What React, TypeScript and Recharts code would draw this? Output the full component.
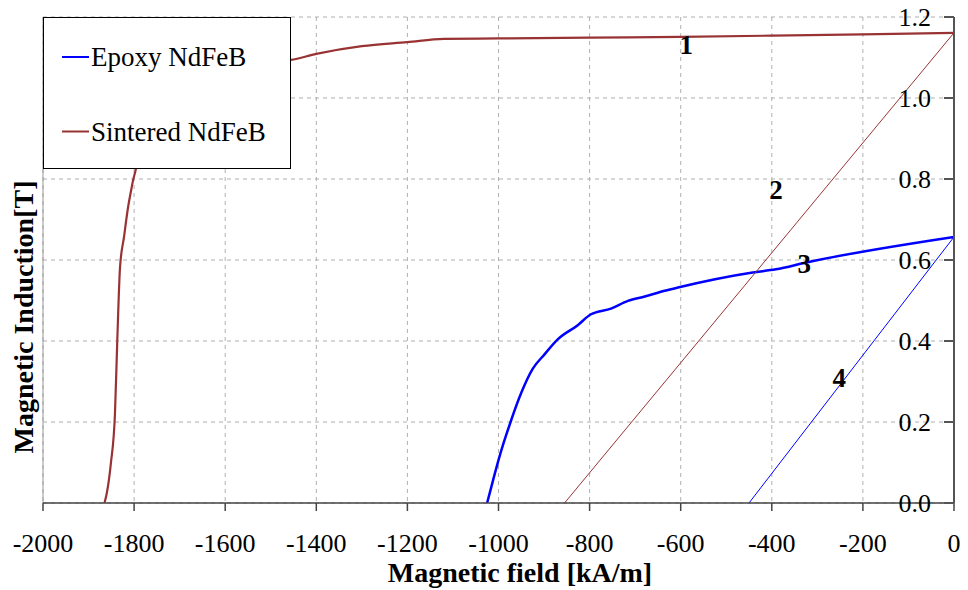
import {
  LineChart,
  Line,
  XAxis,
  YAxis,
  CartesianGrid,
  Legend,
  ReferenceDot,
  ReferenceLine,
} from "recharts";

const serif = "'Liberation Serif', 'Times New Roman', serif";

// x ticks [kA/m] and y ticks [T]
const fieldTicks = [-2000, -1800, -1600, -1400, -1200, -1000, -800, -600, -400, -200, 0];
const inductionTicks = [0, 0.2, 0.4, 0.6, 0.8, 1.0, 1.2];

// curve 1: sintered NdFeB demagnetization
const sinteredH = [
  -1865, -1860, -1851, -1842, -1837, -1831, -1822, -1813, -1807, -1802, -1796, -1788, -1770,
  -1740, -1690, -1600, -1500, -1456, -1400, -1300, -1200, -1120, -1000, -800, -600, -400, -200, 0,
];
const sinteredB = [
  0, 0.024, 0.098, 0.221, 0.398, 0.58, 0.658, 0.732, 0.769, 0.798, 0.825, 0.88, 0.96, 1.02,
  1.06, 1.08, 1.09, 1.094, 1.109, 1.128, 1.138, 1.146, 1.147, 1.149, 1.151, 1.154, 1.157, 1.161,
];

// curve 3: epoxy (bonded) NdFeB
const epoxyH = [
  -1025, -1012, -998, -972, -950, -925, -899, -870, -826, -797, -753, -716, -679, -635, -606,
  -442, -391, -324, 0,
];
const epoxyB = [
  0, 0.056, 0.114, 0.205, 0.272, 0.331, 0.367, 0.404, 0.439, 0.466, 0.48, 0.499, 0.51, 0.524,
  0.532, 0.569, 0.577, 0.594, 0.657,
];

// straight lines 2 and 4
const line2H = [-855, 0];
const line2B = [0, 1.161];
const line4H = [-450, 0];
const line4B = [0, 0.657];

// curve number labels
const markNames = ["1", "2", "3", "4"];
const markH = [-588, -391, -329, -252];
const markB = [1.133, 0.775, 0.592, 0.309];

const zip = (h: number[], b: number[]) => h.map((x, i) => ({ h: x, b: b[i] }));

const sintered = zip(sinteredH, sinteredB);
const epoxy = zip(epoxyH, epoxyB);
const line2 = zip(line2H, line2B);
const line4 = zip(line4H, line4B);

const BROWN = "#993333";
const BLUE = "#0000ff";

function LegendBox(props: any) {
  const items = (props.payload || []).filter((p: any) => p.type !== "none");
  return (
    <div
      style={{
        width: 248,
        height: 152,
        boxSizing: "border-box",
        border: "1px solid #000",
        background: "#fff",
      }}
    >
      <svg width={246} height={150}>
        {items.map((p: any, i: number) => (
          <g key={p.value}>
            <line x1={18} x2={45} y1={39 + i * 74.5} y2={39 + i * 74.5} stroke={p.color} strokeWidth={2} />
            <text x={47} y={48 + i * 75} fontSize={27} fontFamily={serif} fill="#000">
              {p.value}
            </text>
          </g>
        ))}
      </svg>
    </div>
  );
}

export default function App() {
  return (
    <div style={{ position: "absolute", left: 0, top: 0, width: 968, height: 590, background: "#fff" }}>
      <LineChart
        width={968}
        height={590}
        margin={{ top: 17, right: 14, left: 43, bottom: 0 }}
        style={{ fontFamily: serif }}
      >
        <CartesianGrid stroke="#b0b0b0" strokeDasharray="4 4" />
        <ReferenceLine x={-2000} stroke="#999" strokeWidth={1} />
        <XAxis
          type="number"
          dataKey="h"
          domain={[-2000, 0]}
          ticks={fieldTicks}
          height={87}
          tickSize={8}
          tickMargin={23}
          stroke="#444"
          strokeWidth={1.5}
          tick={{ fontSize: 26, fill: "#000", fontFamily: serif }}
          allowDataOverflow
        />
        <YAxis
          type="number"
          dataKey="b"
          orientation="right"
          mirror
          domain={[0, 1.2]}
          ticks={inductionTicks}
          tickFormatter={(v: number) => v.toFixed(1)}
          tickSize={10}
          tickMargin={13}
          stroke="#555"
          strokeWidth={2}
          tick={{ fontSize: 26, fill: "#000", fontFamily: serif }}
          allowDataOverflow
        />
        <Legend
          layout="vertical"
          align="center"
          verticalAlign="middle"
          wrapperStyle={{ left: 43, top: 17, width: 248, height: 152 }}
          content={LegendBox}
        />
        <Line
          data={epoxy}
          dataKey="b"
          name="Epoxy NdFeB"
          type="monotone"
          stroke={BLUE}
          strokeWidth={2.5}
          dot={false}
          isAnimationActive={false}
        />
        <Line
          data={sintered}
          dataKey="b"
          name="Sintered NdFeB"
          type="monotone"
          stroke={BROWN}
          strokeWidth={2.2}
          dot={false}
          isAnimationActive={false}
        />
        <Line
          data={line2}
          dataKey="b"
          name="line 2"
          type="linear"
          stroke={BROWN}
          strokeWidth={1}
          dot={false}
          legendType="none"
          isAnimationActive={false}
        />
        <Line
          data={line4}
          dataKey="b"
          name="line 4"
          type="linear"
          stroke={BLUE}
          strokeWidth={1}
          dot={false}
          legendType="none"
          isAnimationActive={false}
        />
        {markNames.map((m, i) => (
          <ReferenceDot
            key={m}
            x={markH[i]}
            y={markB[i]}
            r={0}
            stroke="none"
            fill="none"
            label={{
              value: m,
              position: "center",
              fontSize: 27,
              fontWeight: "bold",
              fill: "#000",
              fontFamily: serif,
            }}
          />
        ))}
        <text
          x={520}
          y={582}
          textAnchor="middle"
          fontSize={28}
          fontWeight="bold"
          fontFamily={serif}
          fill="#000"
        >
          Magnetic field [kA/m]
        </text>
        <text
          transform="translate(33,317) rotate(-90)"
          textAnchor="middle"
          fontSize={28}
          fontWeight="bold"
          fontFamily={serif}
          fill="#000"
        >
          Magnetic Induction[T]
        </text>
      </LineChart>
    </div>
  );
}
